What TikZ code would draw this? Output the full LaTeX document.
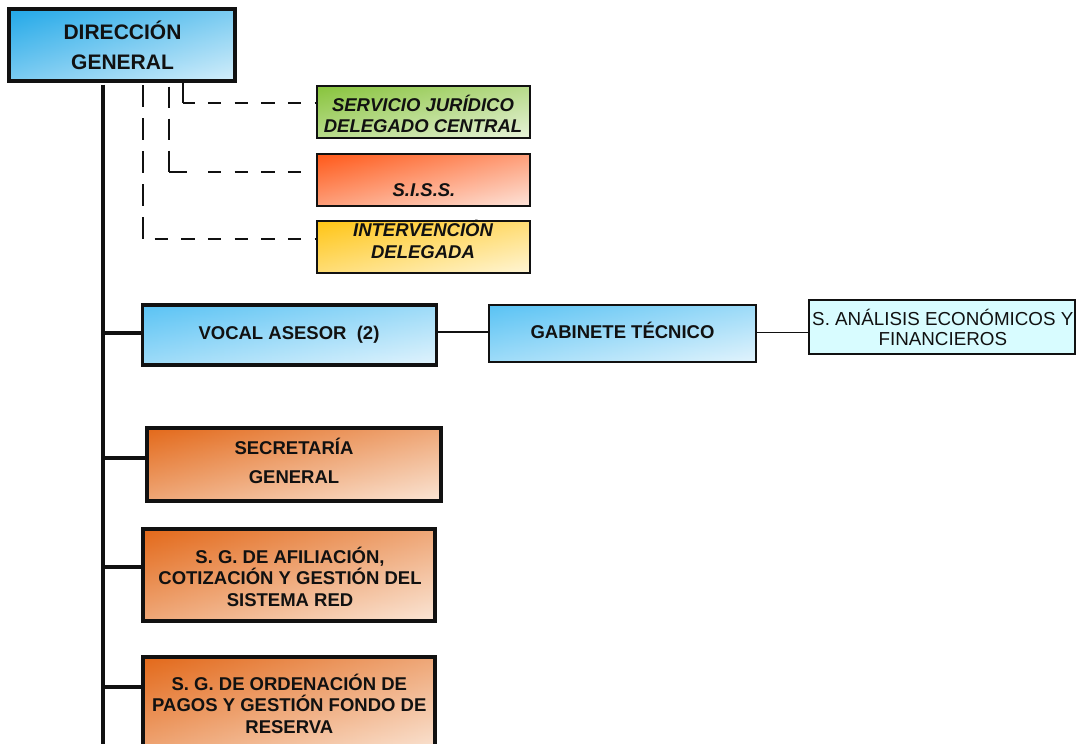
\documentclass[tikz,border=0pt]{standalone}
\usepackage{fontspec}
\setmainfont{Liberation Sans}
\definecolor{dgA}{HTML}{22A8E8}
\definecolor{dgB}{HTML}{D4EFFB}
\definecolor{blA}{HTML}{5AC3F4}
\definecolor{blB}{HTML}{E2F4FD}
\definecolor{grA}{HTML}{88C43C}
\definecolor{grB}{HTML}{E8F3DA}
\definecolor{rdA}{HTML}{FF5818}
\definecolor{rdB}{HTML}{FDE4DA}
\definecolor{ylA}{HTML}{FFC515}
\definecolor{ylB}{HTML}{FFF6D6}
\definecolor{orA}{HTML}{E3691A}
\definecolor{orB}{HTML}{FBE6D6}
\definecolor{cyF}{HTML}{D8FCFF}
\definecolor{ink}{HTML}{111111}
\begin{document}
\begin{tikzpicture}[x=1pt,y=-1pt,
  box/.style={draw=ink, rectangle, inner sep=0pt},
  heavy/.style={line width=4pt},
  light/.style={line width=2pt},
  grad/.style 2 args={path picture={
    \shade[left color=#1, right color=#2]
      (path picture bounding box.south west) rectangle (path picture bounding box.north east);
    \shade[top color=#1, bottom color=#2, fill opacity=0.5]
      (path picture bounding box.south west) rectangle (path picture bounding box.north east);}},
  txt/.style={text=ink, align=center, inner sep=0pt,
    font=\bfseries\fontsize{18.5}{21.5}\selectfont},
  trunkline/.style={draw=ink, line width=4pt},
  thinline/.style={draw=ink, line width=1.3pt},
  vdash/.style={draw=ink, line width=1.8pt, dash pattern=on 22pt off 11pt},
  hdash/.style={draw=ink, line width=1.8pt, dash pattern=on 13.33pt off 13.33pt}
]
\clip (0,0) rectangle (1076,744);

% boxes
\node[box, heavy, grad={dgA}{dgB}, minimum width=226pt, minimum height=71.4pt] (dg) at (122.3,45) {};
\node[box, light, grad={grA}{grB}, minimum width=212.7pt, minimum height=52.3pt] (sj) at (423.35,112.15) {};
\node[box, light, grad={rdA}{rdB}, minimum width=212.7pt, minimum height=52pt] (siss) at (423.35,179.7) {};
\node[box, light, grad={ylA}{ylB}, minimum width=212.7pt, minimum height=52pt] (int) at (423.35,247) {};
\node[box, line width=3.3pt, grad={blA}{blB}, minimum width=294.3pt, minimum height=60.1pt] (vocal) at (289.5,335) {};
\node[box, light, grad={blA}{blB}, minimum width=266.4pt, minimum height=56.4pt] (gt) at (622.5,333.5) {};
\node[box, light, fill=cyF, minimum width=265.5pt, minimum height=54pt] (saef) at (942,327) {};
\node[box, heavy, grad={orA}{orB}, minimum width=293.7pt, minimum height=73.3pt] (sec) at (293.85,464.65) {};
\node[box, heavy, grad={orA}{orB}, minimum width=292.3pt, minimum height=91.4pt] (sg1) at (289.15,575) {};
\node[box, heavy, grad={orA}{orB}, minimum width=292.3pt, minimum height=97pt] (sg2) at (289.15,705.5) {};

% texts
\node[txt, font=\bfseries\fontsize{21}{29.7}\selectfont] (dg-t) at (122.5,45.3) {DIRECCIÓN\\GENERAL};
\node[txt, font=\bfseries\itshape\fontsize{18.5}{21.6}\selectfont] (sj-t) at (423,113.9) {SERVICIO JURÍDICO\\DELEGADO CENTRAL};
\node[txt, font=\bfseries\itshape\fontsize{18.5}{21.6}\selectfont] (siss-t) at (424,190.5) {S.I.S.S.};
\node[txt, font=\bfseries\itshape\fontsize{18.5}{21.6}\selectfont] (int-t) at (423,239.6) {INTERVENCIÓN\\DELEGADA};
\node[txt] (vocal-t) at (289,335) {VOCAL ASESOR~~(2)};
\node[txt] (gt-t) at (622.5,330.8) {GABINETE TÉCNICO};
\node[txt, font=\fontsize{18.8}{19.5}\selectfont] (saef-t) at (942.8,327.3) {S. ANÁLISIS ECONÓMICOS Y\\FINANCIEROS};
\node[txt, font=\bfseries\fontsize{18.5}{28.3}\selectfont] (sec-t) at (294,461) {SECRETARÍA\\GENERAL};
\node[txt] (sg1-t) at (290,576.8) {S. G. DE AFILIACIÓN,\\COTIZACIÓN Y GESTIÓN DEL\\SISTEMA RED};
\node[txt] (sg2-t) at (289.3,703.6) {S. G. DE ORDENACIÓN DE\\PAGOS Y GESTIÓN FONDO DE\\RESERVA};

% trunk and branches
\coordinate (trunk) at (102.7,0);
\coordinate (trunkend) at (102.7,760);
\draw[trunkline] ([yshift=-2pt]dg.south -| trunk) -- (trunkend);
\draw[trunkline] ([yshift=1.7pt]vocal.west -| trunk) -- ([yshift=1.7pt]vocal.west);
\draw[trunkline] ([yshift=6.4pt]sec.west -| trunk) -- ([yshift=6.4pt]sec.west);
\draw[trunkline] ([yshift=8.3pt]sg1.west -| trunk) -- ([yshift=8.3pt]sg1.west);
\draw[trunkline] ([yshift=18.8pt]sg2.west -| trunk) -- ([yshift=18.8pt]sg2.west);

% thin links
\draw[thinline] ([yshift=3pt]vocal.east) -- ([yshift=3pt]vocal.east -| gt.west);
\draw[thinline] ([yshift=0.8pt]gt.east) -- ([yshift=0.8pt]gt.east -| saef.west);

% dashed links
\coordinate (x1) at (142.7,0);
\coordinate (x2) at (169.3,0);
\coordinate (x3) at (182.7,0);
\coordinate (k1) at ([yshift=7.7pt]int.west -| x1);
\coordinate (k2) at ([yshift=8pt]siss.west -| x2);
\coordinate (k3) at ([yshift=8.9pt]sj.west -| x3);
\draw[vdash, dash phase=30.7pt] (dg.south -| x1) -- (k1);
\draw[hdash, dash phase=14.7pt] (k1) -- (k1 -| int.west);
\draw[vdash, dash pattern=on 21pt off 11pt, dash phase=28pt] (dg.south -| x2) -- (k2);
\draw[hdash, dash pattern=on 17.4pt off 21.3pt on 13.33pt off 13.33pt on 13.33pt off 13.33pt on 13.33pt off 13.33pt on 13.33pt off 40pt] (k2) -- (k2 -| siss.west);
\draw[draw=ink, line width=1.8pt] (dg.south -| x3) -- (k3);
\draw[hdash, dash phase=1.37pt] (k3) -- (k3 -| sj.west);
\end{tikzpicture}
\end{document}
